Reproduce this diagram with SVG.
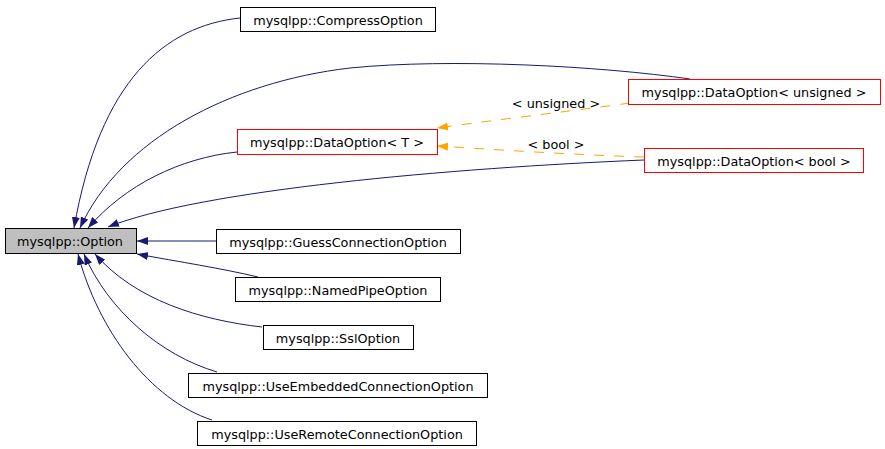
<svg xmlns="http://www.w3.org/2000/svg" width="885" height="449" viewBox="0 0 885 449">
<defs>
<style>
.box{fill:#ffffff;stroke:#000000;stroke-width:1}
.tmpl{fill:#ffffff;stroke:#ff0000;stroke-width:1}
.base{fill:#bfbfbf;stroke:#000000;stroke-width:1}
text{font-family:"DejaVu Sans",sans-serif;font-size:12.8px;fill:#000000;text-anchor:middle}
.e{fill:none;stroke:#191970;stroke-width:1;marker-end:url(#an)}
.o{fill:none;stroke:#ffa500;stroke-width:1;stroke-dasharray:10,10;marker-end:url(#ao)}
</style>
<marker id="an" viewBox="0 0 11 8" refX="11" refY="4" markerWidth="11" markerHeight="8" markerUnits="userSpaceOnUse" orient="auto">
<path d="M0,0 L11,4 L0,8 z" fill="#191970"/>
</marker>
<marker id="ao" viewBox="0 0 11 8" refX="11" refY="4" markerWidth="11" markerHeight="8" markerUnits="userSpaceOnUse" orient="auto">
<path d="M0,0 L11,4 L0,8 z" fill="#ffa500"/>
</marker>
</defs>
<rect width="885" height="449" fill="#ffffff"/>
<g id="connectors">
<path class="e" d="M240,18 C165,26 100,80 74,228"/>
<path class="e" d="M690,79 C600,66 450,58 350,68 C230,82 120,140 80,228"/>
<path class="e" d="M237,152 C180,158 125,185 88,228"/>
<path class="e" d="M644,160 C450,168 200,190 108,227"/>
<path class="e" d="M216,241 L137,241"/>
<path class="e" d="M258,277 C220,268 180,262 137,254"/>
<path class="e" d="M262,327 C200,320 135,300 95,254"/>
<path class="e" d="M217,372 C160,355 108,310 84,254"/>
<path class="e" d="M212,420 C150,400 98,330 78,254"/>
<path class="o" d="M630,103 C580,110 510,118 437,128"/>
<path class="o" d="M644,157 C580,155 500,150 437,146"/>
<text x="556" y="108">&lt; unsigned &gt;</text>
<text x="556" y="149">&lt; bool &gt;</text>
</g>
<g id="node-option"><rect class="base" x="5.5" y="228.5" width="131" height="25"/><text x="70" y="245.5">mysqlpp::Option</text></g>
<g id="node-compress"><rect class="box" x="240.5" y="7.5" width="195" height="24"/><text x="338" y="24.5">mysqlpp::CompressOption</text></g>
<g id="node-dataoption-unsigned"><rect class="tmpl" x="628.5" y="79.5" width="252" height="25"/><text x="754" y="96.5">mysqlpp::DataOption&lt; unsigned &gt;</text></g>
<g id="node-dataoption-t"><rect class="tmpl" x="237.5" y="129.5" width="200" height="25"/><text x="337" y="146.5">mysqlpp::DataOption&lt; T &gt;</text></g>
<g id="node-dataoption-bool"><rect class="tmpl" x="644.5" y="148.5" width="219" height="24"/><text x="754" y="165.5">mysqlpp::DataOption&lt; bool &gt;</text></g>
<g id="node-guess"><rect class="box" x="216.5" y="229.5" width="244" height="24"/><text x="338" y="246.5">mysqlpp::GuessConnectionOption</text></g>
<g id="node-namedpipe"><rect class="box" x="235.5" y="277.5" width="205" height="24"/><text x="338" y="294.5">mysqlpp::NamedPipeOption</text></g>
<g id="node-ssl"><rect class="box" x="263.5" y="325.5" width="150" height="24"/><text x="338" y="342.5">mysqlpp::SslOption</text></g>
<g id="node-useembedded"><rect class="box" x="188.5" y="373.5" width="299" height="24"/><text x="338" y="390.5">mysqlpp::UseEmbeddedConnectionOption</text></g>
<g id="node-useremote"><rect class="box" x="197.5" y="421.5" width="279" height="24"/><text x="337" y="438.5">mysqlpp::UseRemoteConnectionOption</text></g>
</svg>
